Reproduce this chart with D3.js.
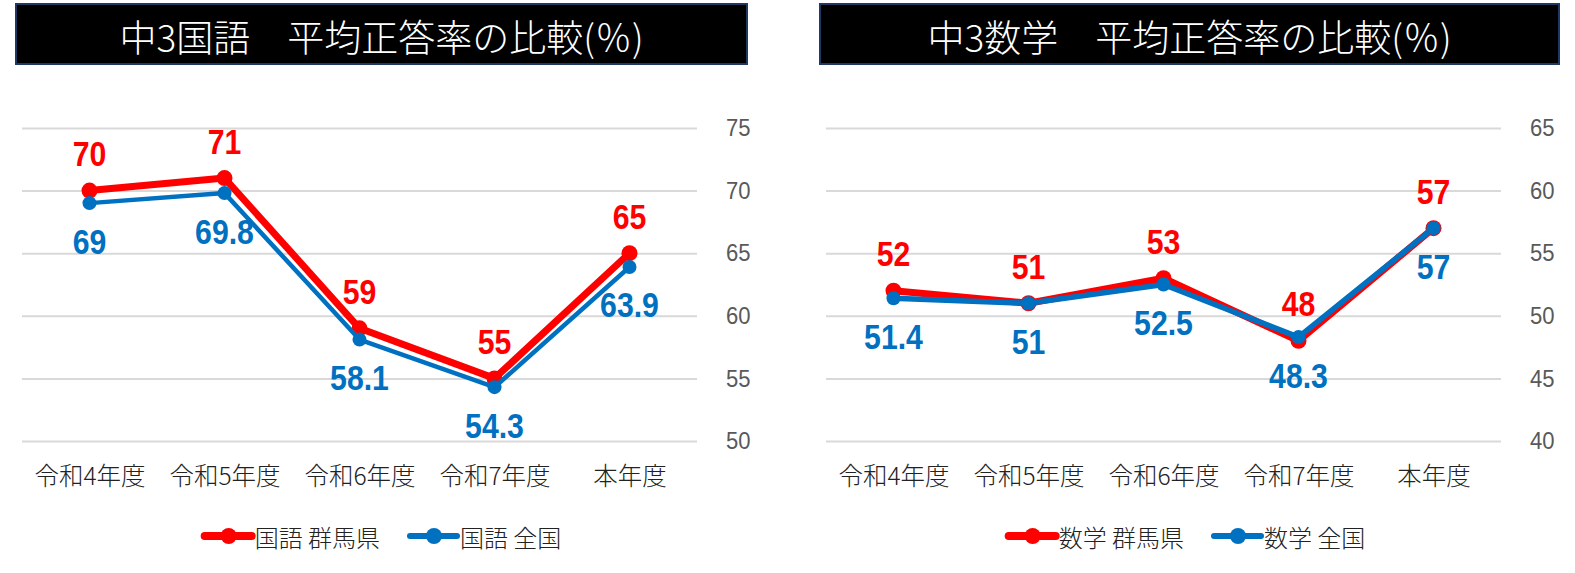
<!DOCTYPE html>
<html>
<head>
<meta charset="utf-8">
<script src="https://cdn.jsdelivr.net/npm/d3@7"></script>
<style>
  body { margin: 0; background: #fff; }
  svg { display: block; }
  .title { font-family: "Noto Sans CJK JP", sans-serif; font-size: 37px; font-weight: 300; fill: #fff; }
  .tick text.cat { font-family: "Noto Sans CJK JP", sans-serif; font-size: 24.5px; font-weight: 300; fill: #222; }
  .yaxis text { font-family: "Liberation Sans", sans-serif; font-size: 24px; fill: #595959; }
  .grid line { stroke: #d9d9d9; stroke-width: 2; }
  .val { font-family: "Liberation Sans", sans-serif; font-weight: bold; font-size: 36px; }
  .leg { font-family: "Noto Sans CJK JP", sans-serif; font-size: 24px; font-weight: 300; fill: #222; }
</style>
</head>
<body>
<svg id="chart" width="1575" height="573"></svg>
<script>
// 年度
const years = ["令和4年度", "令和5年度", "令和6年度", "令和7年度", "本年度"];

// 中3国語
const kokugoGunma = [70, 71, 59, 55, 65];
const kokugoZenkoku = [69, 69.8, 58.1, 54.3, 63.9];
const kokugoTicks = [50, 55, 60, 65, 70, 75];

// 中3数学
const sugakuGunma = [52, 51, 53, 48, 57];
const sugakuZenkoku = [51.4, 51, 52.5, 48.3, 57];
const sugakuTicks = [40, 45, 50, 55, 60, 65];

const RED = "#ff0000", BLUE = "#0070c0";

const svg = d3.select("#chart");

function drawPanel(offsetX, title, ticks, series, redW, blueW) {
    const g = svg.append("g").attr("transform", `translate(${offsetX},0)`);
    const left = 22, right = 697, top = 128, bottom = 441;
    const boxW = offsetX ? 739 : 731;

    // title box
    g.append("rect")
        .attr("x", 16).attr("y", 4)
        .attr("width", boxW).attr("height", 60)
        .attr("fill", "#000").attr("stroke", "#1f3864").attr("stroke-width", 2);
    g.append("text")
        .attr("class", "title")
        .attr("x", 16 + boxW / 2)
        .attr("y", 36)
        .attr("text-anchor", "middle")
        .attr("dominant-baseline", "central")
        .text(title);

    const x = d3.scalePoint().domain(years).range([left, right]).padding(0.5);
    const y = d3.scaleLinear().domain(d3.extent(ticks)).range([bottom, top]);

    // gridlines + right labels
    g.append("g")
        .attr("class", "grid yaxis")
        .attr("transform", `translate(${right},0)`)
        .call(d3.axisRight(y).tickValues(ticks).tickSizeInner(-(right - left)).tickSizeOuter(0).tickPadding(0))
        .call(a => a.select(".domain").remove())
        .call(a => a.selectAll("text").attr("x", 0).attr("transform", "translate(29,0) scale(0.92,1)"));

    // category axis
    g.append("g")
        .attr("transform", `translate(0,${bottom})`)
        .call(d3.axisBottom(x).tickSize(0).tickPadding(27))
        .call(a => a.select(".domain").remove())
        .call(a => a.selectAll("text").attr("class", "cat"));

    const line = d3.line().x((d, i) => x(years[i])).y(d => y(d));

    series.forEach((s, si) => {
        const w = si === 0 ? redW : blueW;
        g.append("path")
            .datum(s.values)
            .attr("fill", "none")
            .attr("stroke", s.color)
            .attr("stroke-width", w)
            .attr("stroke-linejoin", "round")
            .attr("d", line);
        g.selectAll(null)
            .data(s.values)
            .join("circle")
            .attr("cx", (d, i) => x(years[i]))
            .attr("cy", d => y(d))
            .attr("r", si === 0 ? 8 : 7)
            .attr("fill", s.color);
    });

    series.forEach((s, si) => {
        g.selectAll(null)
            .data(s.values)
            .join("text")
            .attr("class", "val")
            .attr("fill", s.color)
            .attr("text-anchor", "middle")
            .attr("dominant-baseline", "central")
            .attr("transform", (d, i) =>
                `translate(${x(years[i])},${y(d) + (si === 0 ? -37 : 38)}) scale(0.84,1)`)
            .text(d => d);
    });

    // legend
    const leg = g.append("g");
    let cx = 0;
    series.forEach(s => {
        const it = leg.append("g");
        it.append("line").attr("x1", 0).attr("x2", 47)
            .attr("stroke", s.color).attr("stroke-width", s.color === RED ? 8 : 6)
            .attr("stroke-linecap", "round");
        it.append("circle").attr("cx", 24).attr("r", 8).attr("fill", s.color);
        const t = it.append("text").attr("class", "leg").attr("x", 50)
            .attr("dominant-baseline", "central").text(s.name);
        const w = 50 + t.node().getComputedTextLength();
        it.attr("transform", `translate(${cx},0)`);
        cx += w + 30;
    });
    const total = cx - 30;
    leg.attr("transform", `translate(${383 - total / 2},536)`);
}

drawPanel(0, "中3国語　平均正答率の比較(％)", kokugoTicks, [
    { name: "国語 群馬県", values: kokugoGunma, color: RED },
    { name: "国語 全国", values: kokugoZenkoku, color: BLUE }
], 7, 4.5);

drawPanel(804, "中3数学　平均正答率の比較(％)", sugakuTicks, [
    { name: "数学 群馬県", values: sugakuGunma, color: RED },
    { name: "数学 全国", values: sugakuZenkoku, color: BLUE }
], 7, 5.5);
</script>
</body>
</html>
